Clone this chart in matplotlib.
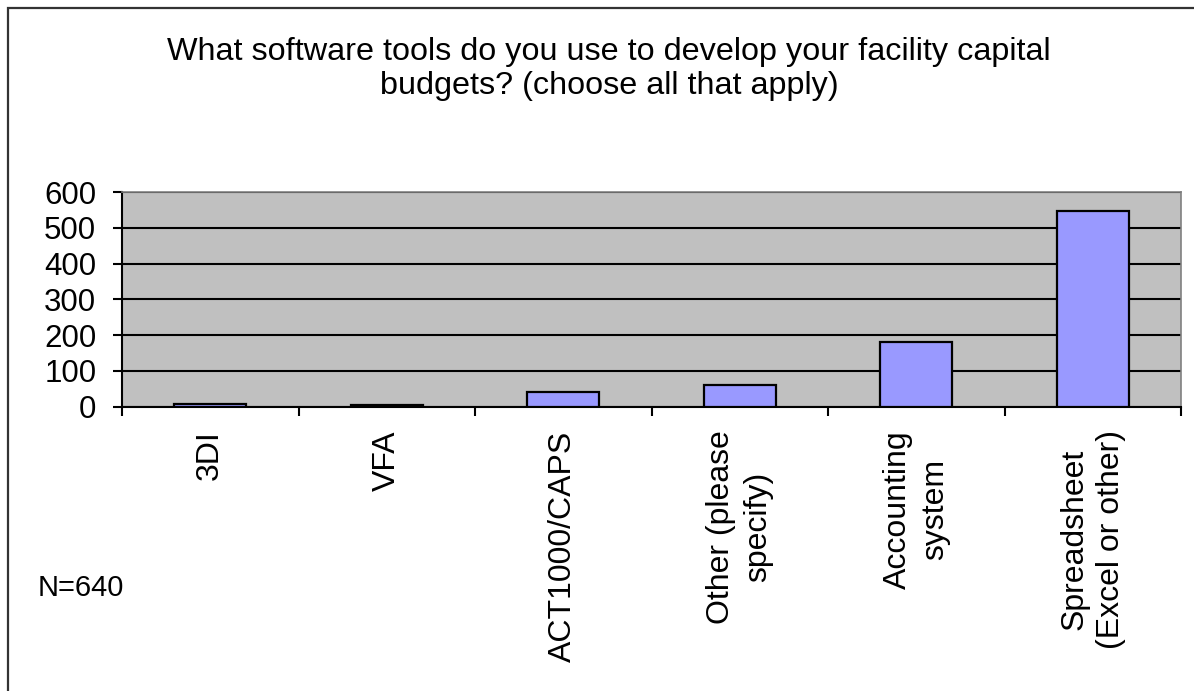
import matplotlib
matplotlib.use("Agg")
import matplotlib.pyplot as plt
from matplotlib.patches import Rectangle

# survey answers
categories = ["3DI", "VFA", "ACT1000/CAPS", "Other (please\nspecify)",
              "Accounting\nsystem", "Spreadsheet\n(Excel or other)"]
counts = [7, 6, 40, 60, 181, 546]
yticks = [0, 100, 200, 300, 400, 500, 600]
title = "What software tools do you use to develop your facility capital\nbudgets? (choose all that apply)"
note = "N=640"

plt.rcParams["font.family"] = ["Liberation Sans", "DejaVu Sans"]

W, H = 1194, 691
fig = plt.figure(figsize=(W / 100, H / 100), dpi=100)
fig.patch.set_facecolor("white")

# chart border (right and bottom edges fall outside the picture)
fig.patches.append(Rectangle((8 / W, -0.1), 1.2, (H - 8) / H + 0.1,
                             transform=fig.transFigure, fill=False,
                             edgecolor="#333333", linewidth=1.6))

ax = fig.add_axes([122 / W, (H - 406.7) / H, (1181 - 122) / W, (406.7 - 192) / H])
ax.set_facecolor("#C0C0C0")

x = list(range(len(categories)))
ax.bar(x, counts, width=0.41, color="#9999FF", edgecolor="black", linewidth=1.6, zorder=3)

ax.set_xlim(-0.5, len(categories) - 0.5)
ax.set_ylim(0, 600)
ax.set_yticks(yticks)
ax.set_yticklabels([str(v) for v in yticks], fontsize=22.5)
ax.yaxis.grid(True, color="black", linewidth=1.5)
ax.set_axisbelow(True)

# ticks sit on category boundaries, labels at centres
ax.set_xticks([i - 0.5 for i in range(len(categories) + 1)])
ax.set_xticklabels([])
ax.set_xticks(x, minor=True)
ax.set_xticklabels(categories, minor=True, rotation=90, fontsize=23,
                   va="top", ha="center", multialignment="center",
                   linespacing=1.3)
ax.tick_params(axis="x", which="minor", length=0, pad=17)
ax.tick_params(axis="x", which="major", length=6.5, width=1.5, direction="out")
ax.tick_params(axis="y", length=6.5, width=1.5, direction="out", pad=12)

for s in ["left", "bottom"]:
    ax.spines[s].set_color("black")
    ax.spines[s].set_linewidth(1.5)
for s in ["top", "right"]:
    ax.spines[s].set_color("#808080")
    ax.spines[s].set_linewidth(1.2)

fig.text(609 / W, 1 - 69 / H, title, ha="center", va="center", fontsize=23.3,
         linespacing=1.18)
fig.text(38 / W, 1 - 588 / H, note, ha="left", va="center", fontsize=21)

fig.savefig("out.png", dpi=100)
